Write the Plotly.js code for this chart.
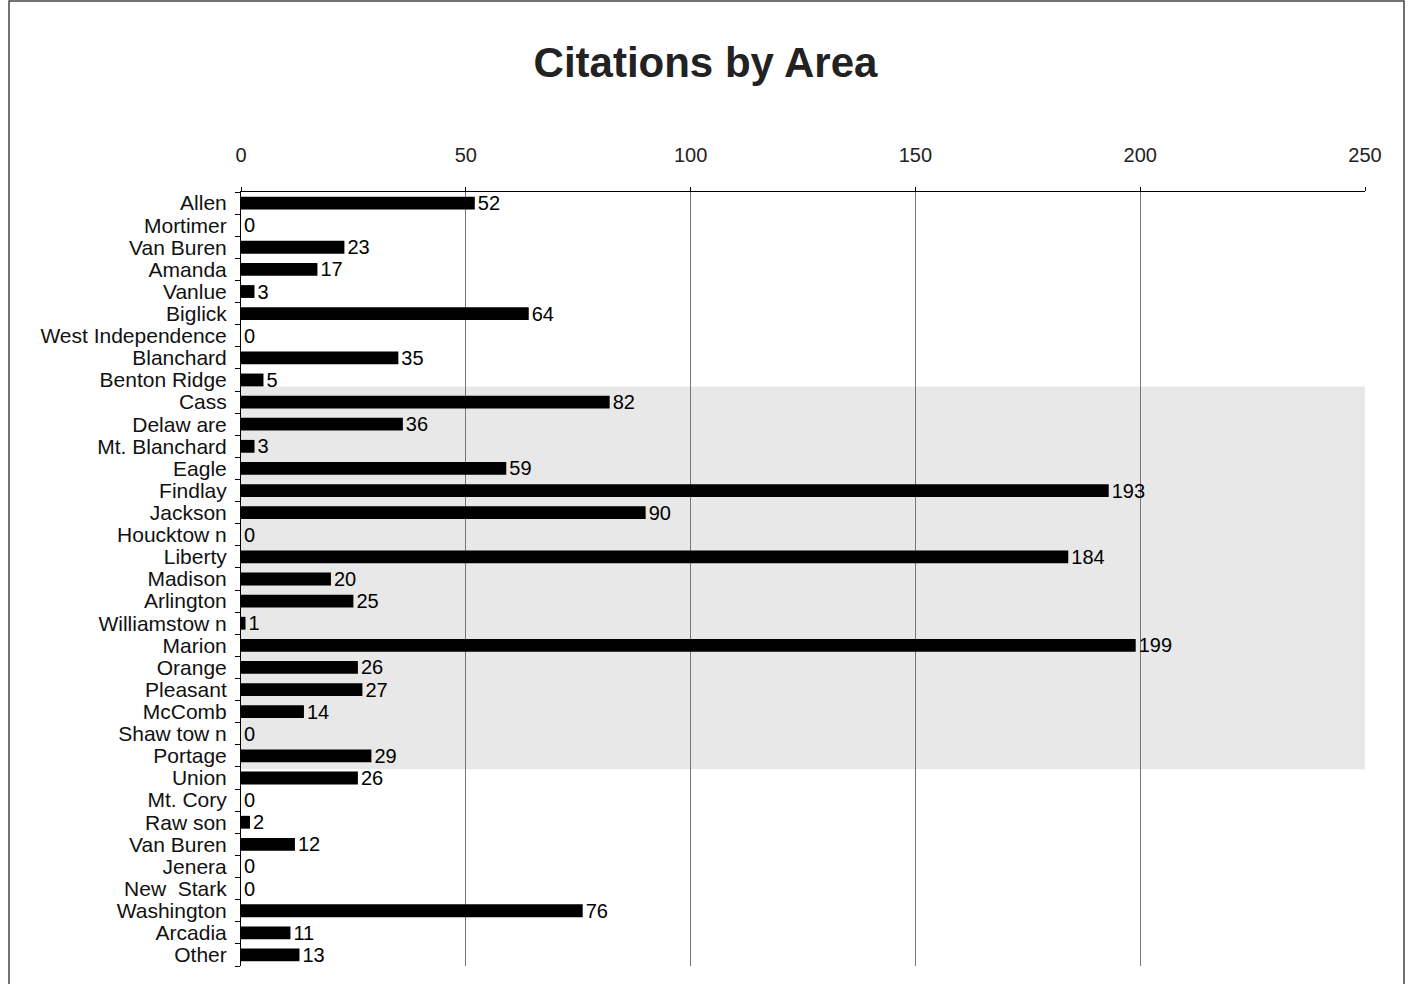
<!DOCTYPE html>
<html>
<head>
<meta charset="utf-8">
<script src="https://cdn.plot.ly/plotly-3.0.1.min.js"></script>
<style>
html,body{margin:0;padding:0;background:#fff;}
#chart{width:1411px;height:984px;}
</style>
</head>
<body>
<div id="chart"></div>
<script>
var areas = ["Allen","Mortimer","Van Buren","Amanda","Vanlue","Biglick","West Independence","Blanchard","Benton Ridge","Cass","Delaw are","Mt. Blanchard","Eagle","Findlay","Jackson","Houcktow n","Liberty","Madison","Arlington","Williamstow n","Marion","Orange","Pleasant","McComb","Shaw tow n","Portage","Union","Mt. Cory","Raw son","Van Buren ","Jenera","New  Stark","Washington","Arcadia","Other"];
var citations = [52,0,23,17,3,64,0,35,5,82,36,3,59,193,90,0,184,20,25,1,199,26,27,14,0,29,26,0,2,12,0,0,76,11,13];
var xTicks = [0,50,100,150,200,250];

var trace = {
  type: "bar",
  orientation: "h",
  y: areas,
  x: citations,
  marker: {color: "#000000", line: {width: 0}},
  text: citations.map(String),
  textposition: "outside",
  constraintext: "none",
  textfont: {family: "Arial, Liberation Sans, sans-serif", size: 20, color: "#000"},
  cliponaxis: false,
  hoverinfo: "x+y"
};

var layout = {
  width: 1411,
  height: 984,
  paper_bgcolor: "#ffffff",
  plot_bgcolor: "rgba(0,0,0,0)",
  margin: {l: 241, r: 46, t: 192, b: 18},
  bargap: 0.42,
  showlegend: false,
  title: {
    text: "<b>Citations by Area</b>",
    font: {family: "Arial, Liberation Sans, sans-serif", size: 42, color: "#222"},
    x: 0.5, xanchor: "center",
    y: 0.937, yanchor: "middle"
  },
  font: {family: "Arial, Liberation Sans, sans-serif", color: "#000"},
  xaxis: {
    side: "top",
    range: [0, 250],
    tickmode: "array",
    tickvals: xTicks,
    ticktext: xTicks.map(String),
    showgrid: true,
    gridcolor: "#777",
    gridwidth: 1,
    zeroline: false,
    showline: true,
    linecolor: "#000",
    linewidth: 1.5,
    ticks: "outside",
    ticklen: 4,
    tickcolor: "#000",
    tickfont: {size: 20, color: "#222"},
    ticklabelstandoff: 17,
    fixedrange: true
  },
  yaxis: {
    type: "category",
    autorange: "reversed",
    tickmode: "array",
    tickvals: areas,
    ticktext: areas.map(function (s) { return s.trim(); }),
    tickson: "boundaries",
    ticks: "outside",
    ticklen: 5,
    tickcolor: "#000",
    showline: true,
    linecolor: "#000",
    linewidth: 1,
    showgrid: false,
    tickfont: {size: 21, color: "#111"},
    ticklabelstandoff: 9,
    fixedrange: true
  },
  shapes: [
    {type: "rect", xref: "x", yref: "y", x0: 0, x1: 250, y0: 8.3, y1: 25.6,
     fillcolor: "rgba(0,0,0,0.09)", line: {width: 0}, layer: "below"},
    {type: "rect", xref: "paper", yref: "paper", x0: -0.2064, x1: 1.0347, y0: -0.035, y1: 1.2468,
     line: {color: "#444", width: 1.5}, fillcolor: "rgba(0,0,0,0)"}
  ]
};

Plotly.newPlot("chart", [trace], layout, {displayModeBar: false, staticPlot: true});
</script>
</body>
</html>
